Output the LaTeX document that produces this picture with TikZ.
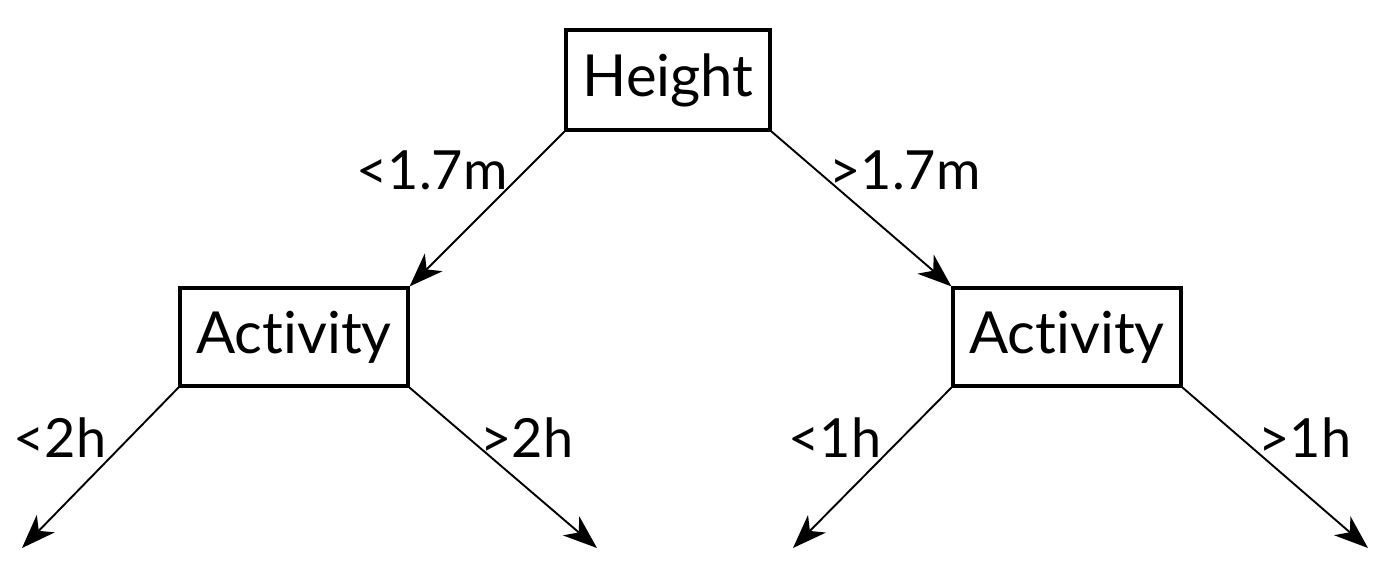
\documentclass[tikz,border=0pt]{standalone}
\usepackage{fontspec}
\setmainfont{Lato}[Ligatures={NoCommon}]
\usetikzlibrary{arrows.meta}
\begin{document}
\begin{tikzpicture}[x=1pt,y=-1pt,
  box/.style={draw,line width=3.2pt,inner sep=0pt,font=\fontsize{58}{60}\selectfont},
  conn/.style={line width=1.9pt,-{Stealth[length=34pt,width=25pt,inset=10pt]}},
  lbl/.style={font=\fontsize{54}{58}\selectfont,inner sep=0pt}]
\useasboundingbox (0,0) rectangle (1386,582);
\node[box,minimum width=204pt,minimum height=100pt] (H) at (668,80) {Height};
\node[box,minimum width=228pt,minimum height=98pt] (A1) at (294,337) {Activity};
\node[box,minimum width=228pt,minimum height=98pt] (A2) at (1067,337) {Activity};
\coordinate (e1) at (22,548);
\coordinate (e2) at (597,548);
\coordinate (e3) at (793,548);
\coordinate (e4) at (1368,548);
\draw[conn] (H.south west) -- (A1.north east);
\draw[conn] (H.south east) -- (A2.north west);
\draw[conn] (A1.south west) -- (e1);
\draw[conn] (A1.south east) -- (e2);
\draw[conn] (A2.south west) -- (e3);
\draw[conn] (A2.south east) -- (e4);
\node[lbl] (l1) at (432,170) {<1.7m};
\node[lbl] (l2) at (905,170) {>1.7m};
\node[lbl] (l3) at (60,438) {<2h};
\node[lbl] (l4) at (527,438) {>2h};
\node[lbl] (l5) at (835,438) {<1h};
\node[lbl] (l6) at (1305,438) {>1h};
\end{tikzpicture}
\end{document}
